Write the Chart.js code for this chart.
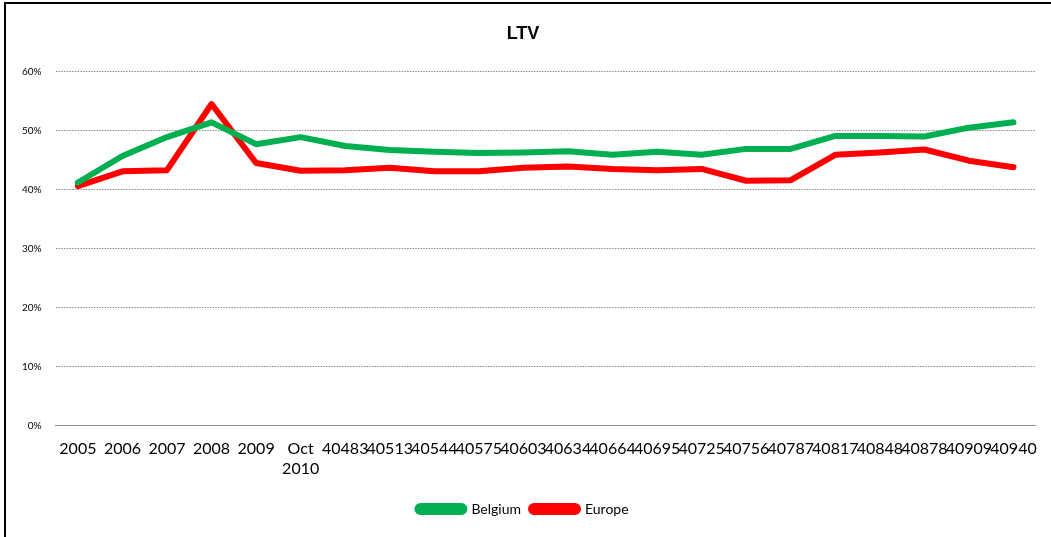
<!DOCTYPE html>
<html>
<head>
<meta charset="utf-8">
<title>LTV</title>
<script src="https://cdn.jsdelivr.net/npm/chart.js@4"></script>
<style>
  html, body { margin: 0; padding: 0; background: #fff; overflow: hidden; }
  #wrap { position: relative; width: 1051px; height: 537px; }
  #frame {
    position: absolute; left: 4px; top: 2px; width: 1100px; height: 600px;
    border-left: 2px solid #000; border-top: 2px solid #000; pointer-events: none;
  }
</style>
</head>
<body>
<div id="wrap">
  <canvas id="ltvChart" width="1051" height="537"></canvas>
  <div id="frame"></div>
</div>
<script>
// Period labels (as exported, incl. raw date serials)
const periods = [
    '2005', '2006', '2007', '2008', '2009', ['Oct', '2010'],
    '40483', '40513', '40544', '40575', '40603', '40634', '40664', '40695',
    '40725', '40756', '40787', '40817', '40848', '40878', '40909', '40940'
];

// LTV in %
const belgium = [
    41.2, 45.7, 48.9, 51.4, 47.7, 48.9, 47.4, 46.7, 46.4, 46.2, 46.3,
    46.5, 45.9, 46.4, 45.9, 46.9, 46.9, 49.1, 49.1, 49.0, 50.5, 51.4
];
const europe = [
    40.6, 43.1, 43.3, 54.5, 44.5, 43.2, 43.3, 43.7, 43.1, 43.1, 43.7,
    43.9, 43.5, 43.3, 43.5, 41.5, 41.6, 45.9, 46.3, 46.8, 44.9, 43.8
];

const yTicks = [0, 10, 20, 30, 40, 50, 60];

const labelFont = "Lato, 'Open Sans', sans-serif";

function renderLtvChart() {
    const ctx = document.getElementById('ltvChart').getContext('2d');

    new Chart(ctx, {
        type: 'line',
        data: {
            labels: periods,
            datasets: [
                {
                    label: 'Belgium',
                    data: belgium,
                    borderColor: '#00B050',
                    backgroundColor: '#00B050'
                },
                {
                    label: 'Europe',
                    data: europe,
                    borderColor: '#FF0000',
                    backgroundColor: '#FF0000'
                }
            ]
        },
        options: {
            responsive: false,
            animation: false,
            devicePixelRatio: 1,
            layout: {
                padding: { left: 8, right: 13, top: 18, bottom: 11 }
            },
            elements: {
                line: {
                    borderWidth: 6,
                    tension: 0,
                    borderCapStyle: 'round',
                    borderJoinStyle: 'round'
                },
                point: { radius: 0, hoverRadius: 0 }
            },
            scales: {
                x: {
                    offset: true,
                    grid: { display: false, drawTicks: false },
                    border: { display: true, color: '#8c8c8c', width: 1 },
                    ticks: {
                        autoSkip: false,
                        maxRotation: 0,
                        minRotation: 0,
                        padding: 14,
                        color: '#000',
                        font: { family: labelFont, size: 16 }
                    }
                },
                y: {
                    min: 0,
                    max: 60,
                    afterBuildTicks: function(axis) {
                        axis.ticks = yTicks.map(v => ({ value: v }));
                    },
                    grid: {
                        color: '#8c8c8c',
                        lineWidth: 1,
                        drawTicks: false
                    },
                    // in v4 the grid line dash comes from border.dash
                    border: { display: false, dash: [1.5, 1.2] },
                    ticks: {
                        padding: 14,
                        color: '#000',
                        font: { family: labelFont, size: 10 },
                        callback: function(value) {
                            return value + '%';
                        }
                    }
                }
            },
            plugins: {
                title: {
                    display: true,
                    text: 'LTV',
                    color: '#000',
                    font: { family: "'Liberation Sans', Arial, sans-serif", size: 18, weight: 'bold' },
                    padding: { top: 5, bottom: 27 }
                },
                legend: {
                    position: 'bottom',
                    labels: {
                        color: '#000',
                        boxWidth: 47,
                        boxHeight: 6,
                        useBorderRadius: true,
                        borderRadius: 3,
                        padding: 10,
                        font: { family: labelFont, size: 14 }
                    }
                },
                tooltip: { enabled: false }
            }
        }
    });
}

renderLtvChart();
</script>
</body>
</html>
